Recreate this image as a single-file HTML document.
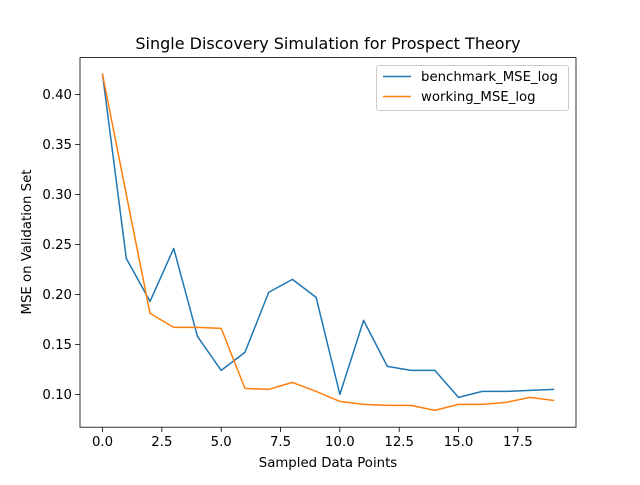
<!DOCTYPE html>
<html><head><meta charset="utf-8"><style>body{margin:0;background:#fff}svg{font-family:"DejaVu Sans","Liberation Sans",sans-serif}</style></head>
<body>
<svg id="c" width="640" height="480" xmlns="http://www.w3.org/2000/svg"></svg>
<script>
const xValues=[0,1,2,3,4,5,6,7,8,9,10,11,12,13,14,15,16,17,18,19];
const benchmark=[0.42,0.236,0.193,0.246,0.158,0.124,0.142,0.202,0.215,0.197,0.100,0.174,0.128,0.124,0.124,0.097,0.103,0.103,0.104,0.105];
const working=[0.42,0.30,0.181,0.167,0.167,0.166,0.106,0.105,0.112,0.103,0.093,0.090,0.089,0.089,0.084,0.090,0.090,0.092,0.097,0.094];
const xTicks=[0,2.5,5,7.5,10,12.5,15,17.5];
const xTickLabels=["0.0","2.5","5.0","7.5","10.0","12.5","15.0","17.5"];
const yTicks=[0.10,0.15,0.20,0.25,0.30,0.35,0.40];
const yTickLabels=["0.10","0.15","0.20","0.25","0.30","0.35","0.40"];
const L=80,R=576,T=57.6,B=427.2;
const allY=benchmark.concat(working);
const yMin=Math.min(...allY),yMax=Math.max(...allY),yr=yMax-yMin;
const y0=yMin-0.05*yr,y1=yMax+0.05*yr;
const xMin=Math.min(...xValues),xMax=Math.max(...xValues),xr=xMax-xMin;
const x0=xMin-0.05*xr,x1=xMax+0.05*xr;
const sx=v=>L+(v-x0)/(x1-x0)*(R-L);
const sy=v=>B-(v-y0)/(y1-y0)*(B-T);
const svg=document.getElementById('c');
const NS='http://www.w3.org/2000/svg';
function mk(tag,attrs,parent){const e=document.createElementNS(NS,tag);for(const k in attrs)e.setAttribute(k,attrs[k]);(parent||svg).appendChild(e);return e;}
function txt(s,attrs){const e=mk('text',attrs);e.textContent=s;return e;}
const t=txt('Single Discovery Simulation for Prospect Theory',{x:328,y:49,'text-anchor':'middle','font-size':16});


xTicks.forEach((v,i)=>{
  const g=mk('g',{});
  
  
  mk('line',{x1:sx(v),x2:sx(v),y1:B,y2:B+4.9,stroke:'#000','stroke-width':0.8},g);
  const tt=mk('text',{x:sx(v),y:B+19,'text-anchor':'middle','font-size':13.3},g);tt.textContent=xTickLabels[i];
});
yTicks.forEach((v,i)=>{
  const g=mk('g',{});
  
  
  mk('line',{x1:L-4.9,x2:L,y1:sy(v),y2:sy(v),stroke:'#000','stroke-width':0.8},g);
  const tt=mk('text',{x:L-8,y:sy(v)+4.8,'text-anchor':'end','font-size':13.3},g);tt.textContent=yTickLabels[i];
});
const xl=txt('Sampled Data Points',{x:328,y:467,'text-anchor':'middle','font-size':13.3});


const yl=txt('MSE on Validation Set',{x:0,y:0,'text-anchor':'middle','font-size':13.3,transform:'translate(31,242) rotate(-90)'});


function series(vals,color,name){
  const p=mk('polyline',{points:vals.map((v,i)=>sx(xValues[i])+','+sy(v)).join(' '),fill:'none',stroke:color,'stroke-width':1.5,'stroke-linejoin':'round','stroke-linecap':'square'});
  
  
}
series(benchmark,'#1f77b4','benchmark-line');
series(working,'#ff7f0e','working-line');
const fr=mk('rect',{x:L,y:T,width:R-L,height:B-T,fill:'none',stroke:'#000','stroke-width':0.8});


const lg=mk('g',{});


mk('rect',{x:376.5,y:65.5,width:192,height:45,rx:2.5,fill:'#fff','fill-opacity':0.8,stroke:'#ccc','stroke-width':1},lg);
[['benchmark_MSE_log','#1f77b4',81],['working_MSE_log','#ff7f0e',101]].forEach(([n,c,y])=>{
  const g=mk('g',{},lg);
  
  
  mk('line',{x1:383,x2:411,y1:y-4.5,y2:y-4.5,stroke:c,'stroke-width':1.5},g);
  const tt=mk('text',{x:421,y:y,'font-size':13.3},g);tt.textContent=n;
});
</script>
</body></html>
